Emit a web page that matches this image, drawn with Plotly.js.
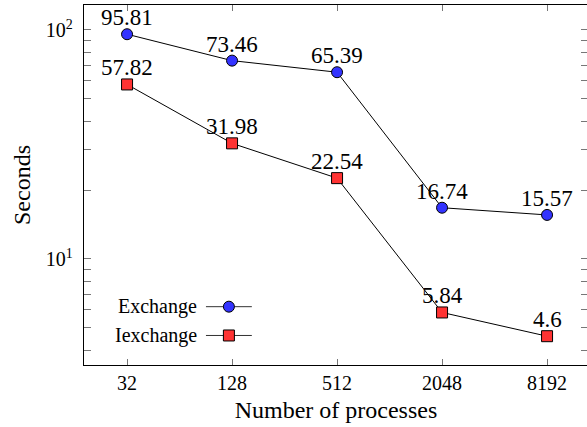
<!DOCTYPE html>
<html>
<head>
<meta charset="utf-8">
<script src="https://cdn.plot.ly/plotly-3.0.1.min.js"></script>
<style>
  html, body { margin: 0; padding: 0; overflow: hidden; background: #fff; }
  #chart { width: 592px; height: 427px; }
</style>
</head>
<body>
<div id="chart"></div>
<script>
// Run times (seconds) for each process count
const processes = ['32', '128', '512', '2048', '8192'];
const exchangeSeconds = [95.81, 73.46, 65.39, 16.74, 15.57];
const iexchangeSeconds = [57.82, 31.98, 22.54, 5.84, 4.6];
const seriesNames = ['Exchange', 'Iexchange'];
const yMajorTicks = [10, 100];
const yMajorLabels = ['10<sup>1</sup>', '10<sup>2</sup>'];
const yMinorTicks = [4, 5, 6, 7, 8, 9, 20, 30, 40, 50, 60, 70, 80, 90];

const SERIF = '"Liberation Serif"';
const BLUE = '#3333ff';
const RED = '#ff3333';

const makeTrace = (ys, name, symbol, fill) => ({
  x: processes, y: ys, name: name,
  type: 'scatter', mode: 'lines+markers',
  line: { color: '#000', width: 1 },
  marker: { symbol: symbol, size: 11, color: fill, line: { color: '#000', width: 1 } },
  cliponaxis: false, showlegend: false
});

const traces = [
  makeTrace(exchangeSeconds, seriesNames[0], 'circle', BLUE),
  makeTrace(iexchangeSeconds, seriesNames[1], 'square', RED)
];

// Value labels just above each point (category axis: position by category index)
const annotations = [];
[exchangeSeconds, iexchangeSeconds].forEach(series => {
  series.forEach((v, i) => {
    annotations.push({
      xref: 'x', yref: 'y', x: i, y: Math.log10(v),
      xanchor: 'center', yanchor: 'bottom', yshift: 2, showarrow: false,
      text: String(v), font: { family: SERIF, size: 23, color: '#000' }
    });
  });
});

// Legend drawn inside the plot: label on the left, line sample with marker on the right
const legendRows = [
  { name: seriesNames[0], y: 0.162, shape: 'circle', fill: BLUE },
  { name: seriesNames[1], y: 0.082, shape: 'rect', fill: RED }
];
const legendTextX = 0.228, legendLineX0 = 0.242, legendLineX1 = 0.333, legendMarkX = 0.2875;
const shapes = [];
legendRows.forEach(r => {
  shapes.push({
    type: 'line', xref: 'paper', yref: 'paper',
    x0: legendLineX0, x1: legendLineX1, y0: r.y, y1: r.y,
    line: { color: '#333', width: 1 }
  });
  shapes.push({
    type: r.shape, xref: 'paper', yref: 'paper',
    xsizemode: 'pixel', ysizemode: 'pixel',
    xanchor: legendMarkX, yanchor: r.y,
    x0: -5.5, x1: 5.5, y0: -5.5, y1: 5.5,
    fillcolor: r.fill, line: { color: '#000', width: 1 }
  });
  annotations.push({
    xref: 'paper', yref: 'paper', x: legendTextX, y: r.y,
    xanchor: 'right', yanchor: 'middle', showarrow: false,
    text: r.name, font: { family: SERIF, size: 20, color: '#000' }
  });
});

const layout = {
  width: 592, height: 427,
  margin: { l: 84, r: 4, t: 5, b: 62 },
  paper_bgcolor: '#fff', plot_bgcolor: '#fff',
  font: { family: SERIF, size: 20, color: '#000' },
  xaxis: {
    type: 'category', range: [-0.41, 4.39],
    showgrid: false, zeroline: false,
    showline: true, linecolor: '#000', linewidth: 1.3, mirror: 'allticks',
    ticks: 'inside', ticklen: 6, tickcolor: '#777', tickwidth: 1,
    tickfont: { family: SERIF, size: 20, color: '#000' },
    title: { text: 'Number of processes', font: { family: SERIF, size: 24, color: '#000' }, standoff: 8 }
  },
  yaxis: {
    type: 'log', range: [0.537, 2.109],
    showgrid: false, zeroline: false,
    showline: true, linecolor: '#000', linewidth: 1.3, mirror: 'allticks',
    tickmode: 'array', tickvals: yMajorTicks, ticktext: yMajorLabels,
    ticks: 'inside', ticklen: 7, tickcolor: '#777', tickwidth: 1,
    ticklabelstandoff: 6,
    tickfont: { family: SERIF, size: 20, color: '#000' },
    minor: { tickmode: 'array', tickvals: yMinorTicks, ticks: 'inside', ticklen: 7, tickcolor: '#777', tickwidth: 1, showgrid: false },
    title: { text: 'Seconds', font: { family: SERIF, size: 24, color: '#000' }, standoff: 8 }
  },
  shapes: shapes,
  annotations: annotations,
  showlegend: false
};

Plotly.newPlot('chart', traces, layout, { displayModeBar: false, staticPlot: true });
</script>
</body>
</html>
